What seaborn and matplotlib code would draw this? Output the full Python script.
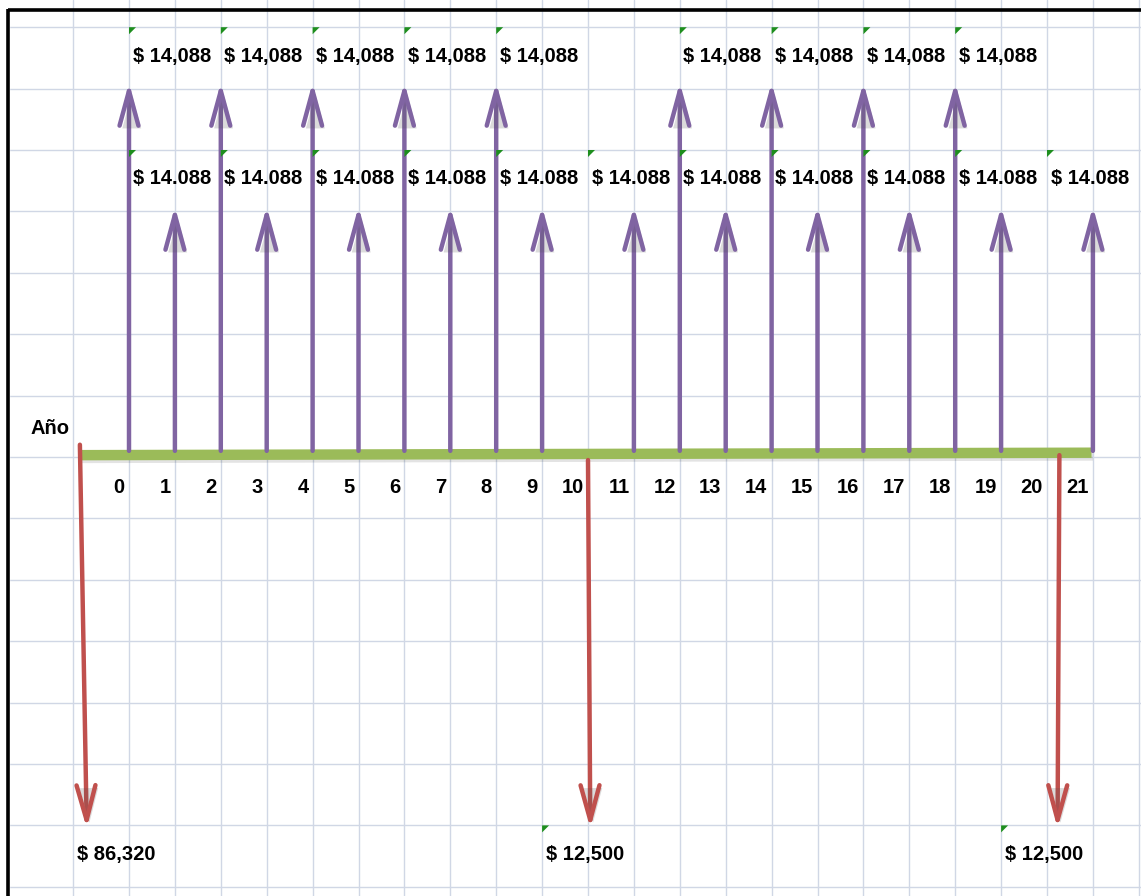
import seaborn as sns
import matplotlib.pyplot as plt
import matplotlib.patheffects as pe
import numpy as np

# --- Estilo ---
sns.set_theme(style="whitegrid")
plt.rcParams['font.family'] = ['Liberation Sans', 'DejaVu Sans']

# --- Datos del diagrama de flujo de caja ---
anios = list(range(22))
anios_ingreso_alto = [0, 2, 4, 6, 8, 12, 14, 16, 18]
anios_ingreso_bajo = [1, 3, 5, 7, 9, 11, 13, 15, 17, 19, 21]
punta_alto = 6.1
punta_bajo = 4.08

# etiquetas de ingresos (celdas donde están escritas)
celdas_fila_sup = [0, 2, 4, 6, 8, 12, 14, 16, 18]
texto_fila_sup = "$ 14,088"
celdas_fila_med = [0, 2, 4, 6, 8, 10, 12, 14, 16, 18, 20]
texto_fila_med = "$ 14.088"

# egresos (flechas rojas hacia abajo, algo inclinadas como en el original)
egreso_x_ini = [-1.07, 10.0, 20.27]
egreso_x_fin = [-0.92, 10.05, 20.23]
egreso_y_ini = [0.2, -0.05, 0.03]
egreso_punta = -6.05
egreso_celdas = [-1.22, 9, 19]
egreso_textos = ["$ 86,320", "$ 12,500", "$ 12,500"]
egreso_con_marca = [False, True, True]

morado = '#8064A2'
rojo = '#C0504D'
verde = '#9BBB59'
verde_marca = '#1E8E1E'
rejilla = '#D0D7E5'

# --- Figura ---
fig = plt.figure(figsize=(11.41, 8.96), dpi=100)
ax = fig.add_axes([0, 0, 1, 1])
ax.set_xlim(-129 / 45.9, (1141 - 129) / 45.9)
ax.set_ylim(-7.15, 457 / 61.4)

# rejilla tipo hoja de cálculo
ax.set_xticks([-1.22] + list(range(23)))
ax.set_yticks(range(-7, 8))
ax.tick_params(length=0, labelbottom=False, labelleft=False)
ax.grid(True, color=rejilla, linewidth=1.0)
for s in ax.spines.values():
    s.set_visible(False)

# borde negro (arriba e izquierda) y margen blanco a la izquierda
ax.axvspan(-2.9, -2.62, color='white', zorder=1)
ax.plot([-2.647, 23], [7.28, 7.28], color='black', lw=2.6, zorder=2, solid_capstyle='butt')
ax.plot([-2.647, -2.647], [7.30, -8], color='black', lw=2.6, zorder=2, solid_capstyle='butt')

sombra = [pe.SimplePatchShadow(offset=(2, -2), alpha=0.2), pe.Normal()]
sombra_linea = [pe.SimpleLineShadow(offset=(1, -2), alpha=0.12), pe.Normal()]

# línea de tiempo
ax.plot([-1.07, 20.97], [0.03, 0.07], color=verde, lw=7.5, zorder=4,
        solid_capstyle='butt', path_effects=sombra_linea)

estilo = '->,head_length=1.25,head_width=0.34'


def flecha(x0, y0, x1, y1, color):
    a = ax.annotate('', xy=(x1, y1), xytext=(x0, y0),
                    arrowprops=dict(arrowstyle=estilo, color=color, lw=3.2,
                                    mutation_scale=20, shrinkA=0, shrinkB=0),
                    zorder=5)
    a.arrow_patch.set_path_effects(sombra)


# ingresos
for x in anios_ingreso_alto:
    flecha(x, 0.1, x, punta_alto, morado)
for x in anios_ingreso_bajo:
    flecha(x, 0.1, x, punta_bajo, morado)

# egresos
for x0, x1, y0 in zip(egreso_x_ini, egreso_x_fin, egreso_y_ini):
    flecha(x0, y0, x1, egreso_punta, rojo)

fuente = dict(fontsize=14.5, fontweight='bold', color='black', zorder=6)
dx, dy = 7 / 45.9, 7 / 61.4


def marca(x, y):
    # triangulito verde de la esquina de la celda
    ax.fill([x, x + dx, x], [y, y, y - dy], color=verde_marca, lw=0, zorder=6)


for c in celdas_fila_sup:
    ax.text(c + 0.08, 6.53, texto_fila_sup, ha='left', va='center', **fuente)
    marca(c, 7)
for c in celdas_fila_med:
    ax.text(c + 0.08, 4.53, texto_fila_med, ha='left', va='center', **fuente)
    marca(c, 5)
for c, t, m in zip(egreso_celdas, egreso_textos, egreso_con_marca):
    ax.text(c + 0.08, -6.48, t, ha='left', va='center', **fuente)
    if m:
        marca(c, -6)

# años
for a in anios:
    ax.text(a - 0.09, -0.49, str(a), ha='right', va='center', **fuente)
ax.text(-1.29, 0.47, 'Año', ha='right', va='center', **fuente)

fig.savefig('out.png', dpi=100)
